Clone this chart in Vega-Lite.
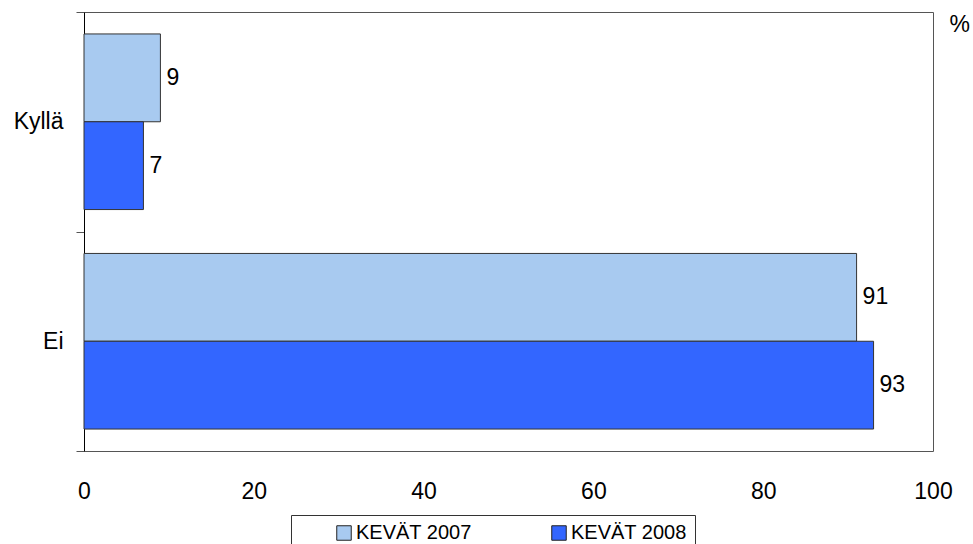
{
  "$schema": "https://vega.github.io/schema/vega-lite/v6.json",
  "width": 849,
  "height": 439,
  "autosize": {"type": "none"},
  "padding": {"left": 84, "top": 12, "right": 40, "bottom": 93},
  "background": "white",
  "config": {
    "font": "Liberation Sans",
    "view": {"stroke": "#555555", "strokeWidth": 1}
  },
  "title": {
    "text": "%",
    "orient": "top",
    "anchor": "end",
    "frame": "group",
    "fontSize": 23,
    "fontWeight": "normal",
    "font": "Liberation Sans",
    "color": "black",
    "baseline": "top",
    "dx": 37,
    "dy": 40
  },
  "data": {
    "values": [
      {"cat": "Kyllä", "year": "KEVÄT 2007", "value": 9},
      {"cat": "Kyllä", "year": "KEVÄT 2008", "value": 7},
      {"cat": "Ei", "year": "KEVÄT 2007", "value": 91},
      {"cat": "Ei", "year": "KEVÄT 2008", "value": 93}
    ]
  },
  "encoding": {
    "y": {
      "field": "cat",
      "type": "nominal",
      "sort": ["Kyllä", "Ei"],
      "scale": {"paddingInner": 0, "paddingOuter": 0},
      "axis": {
        "title": null,
        "domainColor": "black",
        "domainWidth": 1,
        "tickBand": "extent",
        "tickSize": 8,
        "tickColor": "#555555",
        "labelFontSize": 23,
        "labelColor": "black",
        "labelPadding": 13,
        "labelFont": "Liberation Sans"
      }
    },
    "yOffset": {
      "field": "year",
      "type": "nominal",
      "scale": {"paddingInner": 0, "paddingOuter": 0.25}
    },
    "x": {
      "field": "value",
      "type": "quantitative",
      "scale": {"domain": [0, 100], "nice": false},
      "axis": {
        "title": null,
        "values": [0, 20, 40, 60, 80, 100],
        "grid": false,
        "ticks": false,
        "domain": false,
        "labelFlush": false,
        "labelFontSize": 23,
        "labelColor": "black",
        "labelPadding": 29,
        "labelFont": "Liberation Sans"
      }
    }
  },
  "layer": [
    {
      "mark": {"type": "bar", "stroke": "#333333", "strokeWidth": 1},
      "encoding": {
        "color": {
          "field": "year",
          "type": "nominal",
          "scale": {"domain": ["KEVÄT 2007", "KEVÄT 2008"], "range": ["#A8CAF0", "#3366FF"]},
          "legend": {
            "title": null,
            "orient": "none",
            "legendX": 207,
            "legendY": 503,
            "direction": "horizontal",
            "columns": 2,
            "columnPadding": 42,
            "padding": 8,
            "strokeColor": "#333333",
            "fillColor": "white",
            "symbolType": "square",
            "symbolSize": 210,
            "symbolStrokeColor": "#222222",
            "symbolStrokeWidth": 1,
            "symbolOffset": 35,
            "labelExpr": "datum.label == 'KEVÄT 2008' ? datum.label + '\u00a0\u00a0\u00a0\u00a0\u00a0' : datum.label",
            "labelFontSize": 20,
            "labelColor": "black",
            "labelFont": "Liberation Sans",
            "labelOffset": 2
          }
        }
      }
    },
    {
      "mark": {"type": "text", "align": "left", "baseline": "middle", "dx": 6, "fontSize": 23, "color": "black", "font": "Liberation Sans"},
      "encoding": {
        "text": {"field": "value", "type": "quantitative"}
      }
    }
  ]
}
